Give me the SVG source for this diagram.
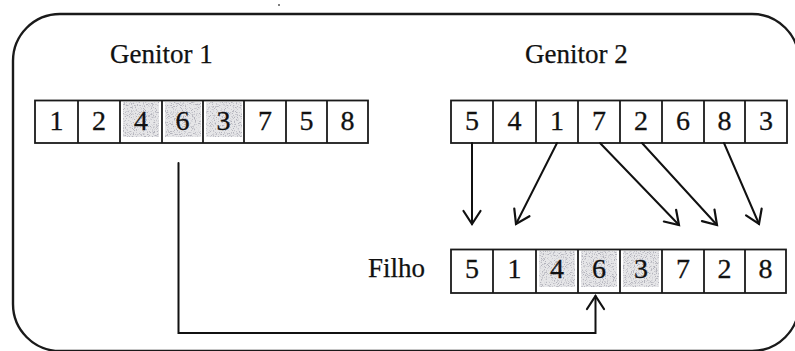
<svg xmlns="http://www.w3.org/2000/svg" width="795" height="351" viewBox="0 0 795 351">
  <style>
    .frame { fill: none; stroke: #1a1a1a; stroke-width: 2.4; }
    .cell { fill: none; stroke: #1a1a1a; stroke-width: 1.8; }
    .digit { font-family: "Liberation Serif", "Times New Roman", serif; font-size: 28px; fill: #111; stroke: #111; stroke-width: 0.3; text-anchor: middle; }
    .label { font-family: "Liberation Serif", "Times New Roman", serif; font-size: 27px; fill: #111; stroke: #111; stroke-width: 0.25; }
    .link { fill: none; stroke: #111; stroke-width: 2; stroke-linecap: round; }
    .shade { fill: #e6e6e8; }
  </style>
  <defs>
    <marker id="open-arrow" markerUnits="userSpaceOnUse" viewBox="-16 -12 20 24" refX="0" refY="0" markerWidth="20" markerHeight="24" orient="auto" overflow="visible">
      <path d="M-13,-8.5 L0,0 L-13,8.5" fill="none" stroke="#111" stroke-width="2.2" stroke-linecap="round" stroke-linejoin="miter"/>
    </marker>
    <!-- grainy grey speckle for the copied segment -->
    <filter id="grain" x="0" y="0" width="100%" height="100%">
      <feTurbulence type="fractalNoise" baseFrequency="0.9" numOctaves="2" seed="7" result="noise"/>
      <feColorMatrix in="noise" type="matrix" values="0 0 0 0 0.45  0 0 0 0 0.45  0 0 0 0 0.5  0 0 0 5 -2.6" result="speckle"/>
      <feComposite in="speckle" in2="SourceGraphic" operator="in"/>
    </filter>
  </defs>

  <rect width="795" height="351" fill="#ffffff"/>
  <circle cx="279" cy="5" r="1" fill="#555"/>

  <!-- outer rounded frame -->
  <rect class="frame" x="13" y="14" width="786" height="337" rx="47" ry="47"/>

  <!-- Genitor 1 -->
  <g id="genitor1">
    <text class="label" x="110" y="63">Genitor 1</text>
    <g class="shades">
      <rect class="shade" x="123" y="102" width="36" height="35"/>
      <rect class="shade" x="165" y="102" width="36" height="35"/>
      <rect class="shade" x="206" y="102" width="36" height="35"/>
      <rect x="123" y="102" width="36" height="35" fill="#000" filter="url(#grain)"/>
      <rect x="165" y="102" width="36" height="35" fill="#000" filter="url(#grain)"/>
      <rect x="206" y="102" width="36" height="35" fill="#000" filter="url(#grain)"/>
    </g>
    <rect class="cell" x="35" y="100.5" width="333" height="42.5"/>
    <path class="cell" d="M78,100.5V143 M120,100.5V143 M162,100.5V143 M203,100.5V143 M244,100.5V143 M286,100.5V143 M327,100.5V143"/>
    <text class="digit" x="56.5" y="130">1</text>
    <text class="digit" x="99" y="130">2</text>
    <text class="digit" x="141" y="130">4</text>
    <text class="digit" x="182.5" y="130">6</text>
    <text class="digit" x="223.5" y="130">3</text>
    <text class="digit" x="265" y="130">7</text>
    <text class="digit" x="306.5" y="130">5</text>
    <text class="digit" x="347.5" y="130">8</text>
  </g>

  <!-- Genitor 2 -->
  <g id="genitor2">
    <text class="label" x="525" y="63">Genitor 2</text>
    <rect class="cell" x="451" y="100.5" width="336" height="42.5"/>
    <path class="cell" d="M493,100.5V143 M536,100.5V143 M578,100.5V143 M620,100.5V143 M662,100.5V143 M704,100.5V143 M745,100.5V143"/>
    <text class="digit" x="472" y="130">5</text>
    <text class="digit" x="514.5" y="130">4</text>
    <text class="digit" x="557" y="130">1</text>
    <text class="digit" x="599" y="130">7</text>
    <text class="digit" x="641" y="130">2</text>
    <text class="digit" x="683" y="130">6</text>
    <text class="digit" x="724.5" y="130">8</text>
    <text class="digit" x="766" y="130">3</text>
  </g>

  <!-- Filho -->
  <g id="filho">
    <text class="label" x="368" y="277">Filho</text>
    <g class="shades">
      <rect class="shade" x="539" y="251" width="36" height="36"/>
      <rect class="shade" x="581" y="251" width="36" height="36"/>
      <rect class="shade" x="623" y="251" width="36" height="36"/>
      <rect x="539" y="251" width="36" height="36" fill="#000" filter="url(#grain)"/>
      <rect x="581" y="251" width="36" height="36" fill="#000" filter="url(#grain)"/>
      <rect x="623" y="251" width="36" height="36" fill="#000" filter="url(#grain)"/>
    </g>
    <rect class="cell" x="451" y="249.5" width="335" height="43.5"/>
    <path class="cell" d="M493,249.5V293 M536,249.5V293 M578,249.5V293 M620,249.5V293 M662,249.5V293 M704,249.5V293 M745,249.5V293"/>
    <text class="digit" x="472" y="278">5</text>
    <text class="digit" x="514.5" y="278">1</text>
    <text class="digit" x="557" y="278">4</text>
    <text class="digit" x="599" y="278">6</text>
    <text class="digit" x="641" y="278">3</text>
    <text class="digit" x="683" y="278">7</text>
    <text class="digit" x="724.5" y="278">2</text>
    <text class="digit" x="765.5" y="278">8</text>
  </g>

  <!-- connectors -->
  <g id="connectors">
    <line class="link" x1="472" y1="143" x2="472" y2="224" marker-end="url(#open-arrow)"/>
    <line class="link" x1="557" y1="143" x2="516" y2="224" marker-end="url(#open-arrow)"/>
    <line class="link" x1="600" y1="143" x2="679" y2="225" marker-end="url(#open-arrow)"/>
    <line class="link" x1="642" y1="143" x2="717" y2="225" marker-end="url(#open-arrow)"/>
    <line class="link" x1="724" y1="143" x2="759" y2="224" marker-end="url(#open-arrow)"/>
    <polyline class="link" points="178.5,163 178.5,333 595.5,333 595.5,296" marker-end="url(#open-arrow)"/>
  </g>
</svg>
